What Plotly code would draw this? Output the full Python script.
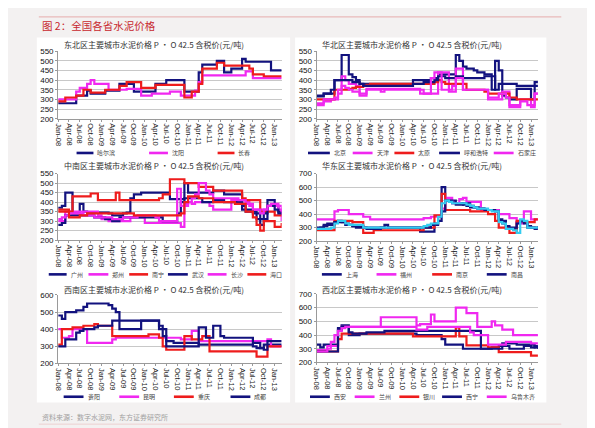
import plotly.graph_objects as go
import pandas as pd

W, H = 595, 428
MONTHS = pd.date_range("2008-01-01", "2013-03-01", freq="MS")

# ---------------- 东北 ----------------
harbin = [280,280,280,280,280,320,320,320,345,330,330,330,
          330,345,345,345,345,380,380,380,380,340,340,340,
          340,340,340,380,380,380,400,400,400,400,400,340,
          340,340,340,440,480,480,480,480,500,500,440,440,
          460,460,460,510,495,495,495,495,495,495,495,450,
          450,450,450]
shenyang = [300,300,300,300,300,340,360,360,380,400,380,380,
            380,380,350,350,350,350,350,355,355,355,355,320,
            320,320,330,330,330,330,330,340,340,340,320,320,
            320,320,345,390,425,425,425,425,425,425,425,425,
            425,425,425,425,445,445,410,410,410,410,410,410,
            410,410,410]
changchun = [290,290,310,310,310,320,320,350,350,335,335,335,
             335,350,350,350,350,370,370,390,390,390,390,360,
             360,360,360,375,375,375,375,375,375,375,375,310,
             310,340,340,380,460,460,460,460,490,490,475,475,
             475,475,475,475,475,460,430,430,430,420,420,420,
             420,420,420]

# ---------------- 华北 ----------------
beijing = [315,315,330,330,330,400,400,530,530,430,415,400,
           380,380,380,380,380,380,380,380,380,380,380,380,
           380,380,380,400,400,400,400,400,410,410,430,430,
           430,430,430,530,500,470,460,460,450,440,440,430,
           430,350,500,450,320,310,300,300,355,355,355,355,
           300,390,390]
tianjin = [270,270,290,290,300,300,330,420,400,380,380,370,
           330,330,355,355,355,355,355,355,355,355,355,355,
           355,355,355,355,355,330,330,330,330,330,440,440,
           440,340,340,460,460,350,350,350,350,350,350,350,
           300,300,300,300,340,340,270,270,270,300,300,300,
           260,330,330]
taiyuan = [300,300,300,300,300,350,350,350,350,355,360,365,
           365,370,375,380,380,380,380,380,380,380,380,380,
           380,380,380,380,380,380,380,380,380,390,400,390,
           380,380,380,380,380,380,350,350,350,350,350,340,
           330,330,330,330,330,330,310,310,300,300,300,300,
           300,300,300]
huhehaote = [320,320,330,330,350,400,400,400,400,400,390,390,
             380,370,370,370,370,370,370,370,370,370,370,370,
             370,370,370,380,380,380,390,390,390,400,420,420,
             410,410,410,420,420,410,410,410,410,410,410,420,
             420,420,350,380,380,380,380,380,370,370,370,370,
             370,370,370]
shijiazhuang = [280,280,300,300,300,310,350,370,360,350,340,340,
                320,320,350,350,350,350,340,350,350,350,350,350,
                350,350,350,350,350,350,330,330,410,440,440,350,
                350,350,370,410,410,350,350,350,350,350,350,350,
                310,310,310,330,330,310,260,260,260,290,290,270,
                270,330,330]

# ---------------- 中南 ----------------
guangzhou = [370,380,450,450,340,340,390,350,345,345,345,345,
             345,345,340,330,330,330,340,345,420,440,440,450,
             450,450,450,450,450,450,450,415,415,415,415,500,
             450,450,450,450,450,450,450,460,460,460,440,440,
             440,440,440,380,350,350,350,310,310,310,410,410,
             380,350,350]
zhengzhou = [300,300,350,350,350,350,350,350,350,350,350,330,
             310,310,300,300,300,300,300,300,320,320,320,320,
             290,290,290,290,290,290,290,290,290,290,270,390,
             400,390,400,400,400,400,380,360,360,360,360,360,
             410,410,410,410,400,390,360,360,360,360,380,380,
             380,360,300]
nanning = [350,350,350,350,430,430,430,430,430,445,445,410,
           410,410,410,410,450,410,410,410,410,410,410,410,
           410,410,410,410,420,440,440,520,520,520,520,500,
           500,500,500,480,480,480,480,460,460,460,460,460,
           460,460,460,420,410,410,410,410,350,350,350,350,
           330,330,330]
wuhan = [280,290,330,330,330,330,330,330,330,330,320,320,
         320,310,310,300,300,320,320,320,320,320,320,320,
         320,320,320,320,320,300,300,300,300,340,400,420,
         420,420,420,420,400,400,400,410,410,410,400,400,
         400,400,400,360,360,360,340,340,280,340,380,380,
         360,340,340]
changsha = [310,320,330,340,340,340,340,330,330,330,320,320,
            320,320,320,310,310,310,320,320,320,320,330,330,
            330,330,330,320,300,300,300,300,300,470,380,380,
            400,420,440,500,500,460,440,420,420,420,420,420,
            420,420,410,410,390,380,360,360,340,360,380,390,
            390,380,350]
haikou = [360,360,360,320,320,320,330,330,340,340,340,340,
          340,340,340,340,340,340,340,340,340,330,330,330,
          330,330,330,330,330,330,330,330,330,330,340,400,
          430,430,430,420,420,420,420,400,400,400,400,400,
          400,390,390,390,350,350,320,280,250,300,300,300,
          270,270,290]

# ---------------- 华东 ----------------
shanghai = [290,300,310,320,320,340,340,340,320,320,310,300,
            300,300,300,300,300,300,300,320,300,300,300,300,
            300,300,300,300,300,270,270,270,270,320,380,600,
            500,500,500,480,480,470,460,450,450,450,440,430,
            430,430,430,350,350,290,290,290,340,340,340,300,
            300,290,290]
fuzhou = [360,360,360,360,360,420,430,430,430,400,400,400,
          400,380,380,360,360,360,360,360,360,360,360,360,
          360,360,360,360,360,360,370,370,380,380,380,440,
          520,520,480,480,510,520,490,490,490,490,430,430,
          430,430,430,400,400,400,370,370,330,330,420,420,
          360,360,360]
nanjing = [280,280,280,280,280,350,350,350,350,350,340,340,
           340,260,260,260,280,280,280,280,280,280,280,280,
           280,280,280,280,280,280,300,300,300,390,390,550,
           430,430,430,430,430,430,430,420,420,420,420,420,
           400,400,350,300,300,300,260,260,350,350,340,340,
           340,360,360]
nanchang = [300,300,320,330,330,340,350,340,330,320,310,310,
            310,300,290,290,290,290,300,300,300,300,300,300,
            300,300,300,300,300,300,300,300,320,330,350,420,
            500,500,480,470,470,480,480,460,450,440,440,430,
            430,430,420,360,330,310,300,300,330,350,330,310,
            300,300,310]
hangzhou = [290,290,290,290,300,330,350,350,330,320,320,320,
            320,300,300,300,300,300,300,300,300,300,300,300,
            300,300,300,300,300,300,310,320,330,330,380,480,
            500,490,480,480,480,480,470,460,450,440,440,440,
            430,420,420,340,330,290,290,280,260,360,350,300,
            300,300,300]

# ---------------- 西南 ----------------
guiyang = [480,460,500,500,500,510,510,530,550,550,550,550,
           550,550,540,520,500,400,400,400,400,400,400,450,
           450,450,450,450,400,400,330,330,320,320,320,320,
           320,320,320,310,310,310,310,310,310,310,310,310,
           310,310,310,310,310,310,300,290,290,310,310,310,
           310,310,310]
kunming = [400,350,350,360,400,400,400,400,320,320,320,320,
           320,320,320,340,350,350,350,350,350,350,350,350,
           350,350,350,350,350,350,350,350,350,350,340,340,
           340,390,390,330,330,330,330,330,330,330,330,330,
           330,330,330,330,330,330,330,330,330,330,340,300,
           300,300,300]
chongqing = [310,400,400,400,410,410,410,420,420,420,430,420,
             420,420,420,360,360,360,360,360,360,360,360,360,
             360,370,370,370,350,300,280,280,280,280,280,360,
             360,340,340,340,360,360,270,270,270,270,270,270,
             270,270,270,270,270,270,270,240,240,240,300,300,
             300,300,300]
chengdu = [300,300,340,340,340,380,390,400,400,400,410,420,
           420,420,420,450,450,450,450,450,450,450,450,450,
           450,450,450,450,420,360,300,300,300,300,300,300,
           300,300,300,410,410,350,350,420,420,360,350,350,
           350,350,350,350,350,350,320,320,290,280,330,330,
           330,330,330]

# ---------------- 西北 ----------------
xian = [330,310,330,330,330,330,450,470,470,400,400,400,
        410,410,410,410,410,410,410,410,410,410,410,410,
        410,410,410,410,400,400,400,400,400,400,400,370,
        330,330,330,330,330,300,300,300,300,300,300,300,
        300,310,310,320,320,320,300,300,300,300,320,320,
        310,320,300]
lanzhou = [290,290,290,320,320,320,430,460,460,460,460,460,
           460,460,460,460,460,460,530,530,530,530,530,530,
           530,530,530,530,470,480,480,480,550,500,500,500,
           500,500,500,600,600,600,560,560,560,460,460,460,
           460,500,470,470,440,440,440,400,400,400,400,400,
           400,400,400]
yinchuan = [280,280,280,280,280,280,370,410,410,410,410,410,
            410,410,410,410,410,410,410,410,410,410,410,410,
            410,410,410,390,390,390,390,390,390,390,390,390,
            390,390,390,455,390,390,325,325,325,325,325,325,
            310,310,310,275,275,275,275,275,275,275,275,275,
            250,250,250]
xining = [280,280,280,280,280,280,440,460,460,420,410,410,
          410,410,420,420,420,420,420,430,430,430,430,430,
          430,430,430,430,430,430,430,430,430,430,430,430,
          430,430,430,430,430,430,430,430,430,430,300,300,
          300,300,300,300,340,340,340,340,330,330,330,330,
          330,310,320]
urumqi = [280,280,280,300,350,400,430,450,460,460,460,460,
          460,460,460,460,460,460,460,460,460,460,460,460,
          460,460,460,460,440,440,440,460,460,460,460,460,
          460,460,460,460,460,460,460,420,400,400,400,400,
          330,330,330,330,330,350,350,350,350,350,350,350,
          340,340,340]

NAVY = "#12127e"
MAG = "#f028f0"
RED = "#ee1c1c"
CYAN = "#33ccf0"

def px(x):
    return x / W

def py(y):
    return 1 - y / H

SUB = "P • O 42.5 含税价(元/吨)"
panels = [
    dict(title="东北区主要城市水泥价格 " + SUB, xd=(46.5, 271.5), yd=(40, 109), yr=(200, 550), dt=50,
         series=[("哈尔滨", harbin, NAVY, True), ("沈阳", shenyang, MAG, True), ("长春", changchun, RED, True)],
         leg=[(65, 82), (138, 157), (207, 224)], legy=144, tpos=(50, 33)),
    dict(title="华北区主要城市水泥价格 " + SUB, xd=(306.7, 529.5), yd=(40, 109), yr=(200, 550), dt=50,
         series=[("北京", beijing, NAVY, True), ("天津", tianjin, MAG, True), ("太原", taiyuan, RED, True),
                 ("呼和浩特", huhehaote, NAVY, True), ("石家庄", shijiazhuang, MAG, True)],
         leg=[(298, 320), (343, 363), (385, 405), (430, 451), (485, 505)], legy=144, tpos=(310, 33)),
    dict(title="中南区主要城市水泥价格 " + SUB, xd=(46.5, 271.5), yd=(165, 233), yr=(200, 550), dt=50,
         series=[("广州", guangzhou, NAVY, True), ("郑州", zhengzhou, MAG, True), ("南宁", nanning, RED, True),
                 ("武汉", wuhan, NAVY, True), ("长沙", changsha, MAG, True), ("海口", haikou, RED, True)],
         leg=[(37, 55), (77, 97), (118, 137), (157, 177), (197, 216), (237, 256)], legy=268, tpos=(50, 157)),
    dict(title="华东区主要城市水泥价格 " + SUB, xd=(306.7, 529.5), yd=(165, 234), yr=(200, 700), dt=100,
         series=[("上海", shanghai, NAVY, True), ("福州", fuzhou, MAG, True), ("南京", nanjing, RED, True),
                 ("南昌", nanchang, NAVY, True), ("杭州", hangzhou, CYAN, False)],
         leg=[(312, 332), (367, 387), (423, 443), (478, 498)], legy=268, tpos=(310, 157)),
    dict(title="西南区主要城市水泥价格 " + SUB, xd=(46.5, 271.5), yd=(289, 359), yr=(200, 600), dt=100,
         series=[("贵阳", guiyang, NAVY, True), ("昆明", kunming, MAG, True), ("重庆", chongqing, RED, True),
                 ("成都", chengdu, NAVY, True)],
         leg=[(52, 72), (108, 128), (163, 183), (220, 240)], legy=393, tpos=(50, 283)),
    dict(title="西北区主要城市水泥价格 " + SUB, xd=(306.7, 529.5), yd=(288, 358), yr=(200, 700), dt=100,
         series=[("西安", xian, NAVY, True), ("兰州", lanzhou, MAG, True), ("银川", yinchuan, RED, True),
                 ("西宁", xining, NAVY, True), ("乌鲁木齐", urumqi, MAG, True)],
         leg=[(300, 320), (345, 365), (390, 410), (433, 453), (478, 498)], legy=393, tpos=(310, 283)),
]

fig = go.Figure()
shapes = []
annotations = []
layout = {}

NUMFONT = "Liberation Sans, Arial, sans-serif"
CJK = "Noto Sans CJK SC"

# white panel backgrounds
shapes.append(dict(type="rect", xref="paper", yref="paper", x0=px(25), x1=px(280), y0=py(399), y1=py(26),
                   fillcolor="white", line=dict(width=0), layer="below"))
shapes.append(dict(type="rect", xref="paper", yref="paper", x0=px(285), x1=px(538), y0=py(399), y1=py(26),
                   fillcolor="white", line=dict(width=0), layer="below"))
# top and bottom rules
shapes.append(dict(type="line", xref="paper", yref="paper", x0=px(27), x1=px(553), y0=py(5), y1=py(5),
                   line=dict(color="#e9b9b9", width=1.2)))
shapes.append(dict(type="line", xref="paper", yref="paper", x0=px(27), x1=px(553), y0=py(421), y1=py(421),
                   line=dict(color="#ecd0d0", width=1)))

for i, p in enumerate(panels):
    n = "" if i == 0 else str(i + 1)
    xa, ya = "x" + n, "y" + n
    for name, vals, color, show in p["series"]:
        assert len(vals) == len(MONTHS), name
        fig.add_trace(go.Scatter(x=MONTHS, y=vals, name=name, mode="lines", line_shape="hv",
                                 line=dict(color=color, width=2.2), xaxis=xa, yaxis=ya, showlegend=False))
    layout["xaxis" + n] = dict(
        domain=[px(p["xd"][0]), px(p["xd"][1])], anchor=ya, type="date",
        range=["2008-01-01", "2013-03-01"], tick0="2008-01-01", dtick="M3", tickformat="%b-%y",
        tickangle=90, tickfont=dict(family=NUMFONT, size=7.5, color="#222"),
        showgrid=False, showline=True, linecolor="#9a9a9a", linewidth=1,
        ticks="outside", ticklen=2, tickcolor="#9a9a9a", zeroline=False)
    layout["yaxis" + n] = dict(
        domain=[py(p["yd"][1]), py(p["yd"][0])], anchor=xa, range=list(p["yr"]), dtick=p["dt"],
        tickfont=dict(family=NUMFONT, size=8, color="#111"), showgrid=True, gridcolor="#c8c8c8",
        gridwidth=1.3, showline=True, linecolor="#9a9a9a", linewidth=1, ticks="outside", ticklen=2,
        tickcolor="#9a9a9a", zeroline=False)
    annotations.append(dict(text=p["title"], xref="paper", yref="paper", x=px(p["tpos"][0]), y=py(p["tpos"][1]),
                            xanchor="left", yanchor="middle", showarrow=False,
                            font=dict(family=CJK, size=8, color="#333")))
    shown = [s for s in p["series"] if s[3]]
    for (name, vals, color, show), (x0, x1) in zip(shown, p["leg"]):
        shapes.append(dict(type="line", xref="paper", yref="paper", x0=px(x0), x1=px(x1),
                           y0=py(p["legy"]), y1=py(p["legy"]), line=dict(color=color, width=2.6)))
        annotations.append(dict(text=name, xref="paper", yref="paper", x=px(x1 + 2), y=py(p["legy"]),
                                xanchor="left", yanchor="middle", showarrow=False,
                                font=dict(family=CJK, size=6, color="#444")))

annotations.append(dict(text="图 2：全国各省水泥价格", xref="paper", yref="paper", x=px(28), y=py(14),
                        xanchor="left", yanchor="middle", showarrow=False,
                        font=dict(family=CJK, size=10.5, color="#c8282e")))
annotations.append(dict(text="资料来源：数字水泥网，东方证券研究所", xref="paper", yref="paper", x=px(28), y=py(414),
                        xanchor="left", yanchor="middle", showarrow=False,
                        font=dict(family=CJK, size=7, color="#a0a0a0")))

fig.update_layout(width=W, height=H, margin=dict(l=0, r=0, t=0, b=0),
                  paper_bgcolor="#f3f1f1", plot_bgcolor="white", showlegend=False,
                  shapes=shapes, annotations=annotations, **layout)

fig.write_html("out.html")
